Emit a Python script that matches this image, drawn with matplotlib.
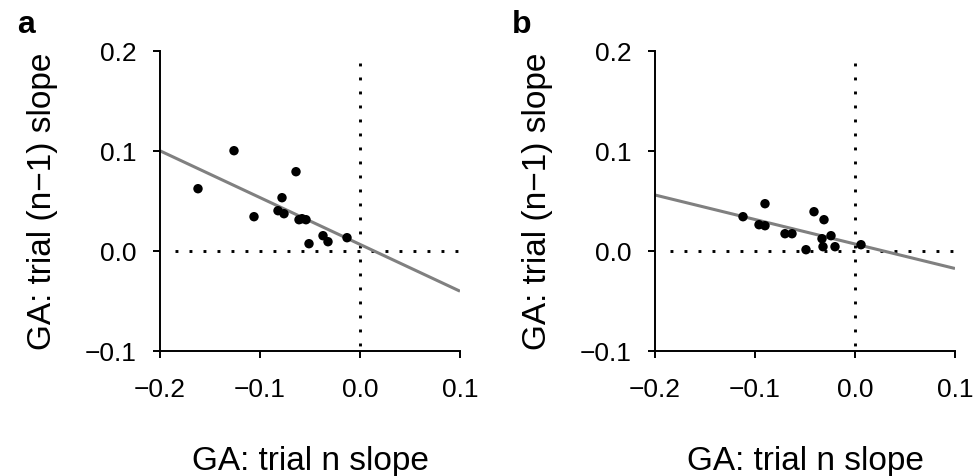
import matplotlib
matplotlib.use("Agg")
import matplotlib.pyplot as plt
import numpy as np

plt.rcParams['font.family'] = ['Liberation Sans', 'DejaVu Sans']

# ---- data ----
panel_labels = ["a", "b"]
xa = [-0.162, -0.126, -0.064, -0.078, -0.106, -0.082, -0.076, -0.061, -0.058,
      -0.054, -0.051, -0.037, -0.032, -0.013]
ya = [0.062, 0.100, 0.079, 0.053, 0.034, 0.040, 0.037, 0.031, 0.032,
      0.031, 0.007, 0.015, 0.009, 0.013]
xb = [-0.112, -0.090, -0.096, -0.090, -0.070, -0.063, -0.049, -0.041, -0.031,
      -0.033, -0.024, -0.032, -0.020, 0.006]
yb = [0.034, 0.047, 0.026, 0.025, 0.017, 0.017, 0.001, 0.039, 0.031,
      0.012, 0.015, 0.004, 0.004, 0.006]
fit_a = (-0.468, 0.0063)   # slope, intercept
fit_b = (-0.245, 0.0067)
xticks = [-0.2, -0.1, 0.0, 0.1]
yticks = [-0.1, 0.0, 0.1, 0.2]
xlabel = "GA: trial n slope"
ylabel = "GA: trial (n\u22121) slope"

W, H = 975, 477
fig = plt.figure(figsize=(W / 100, H / 100), dpi=100)

panels = [(xa, ya, fit_a, 160), (xb, yb, fit_b, 655)]
for i, (xs, ys, fit, left_px) in enumerate(panels):
    ax = fig.add_axes([left_px / W, (H - 351.7) / H, 300 / W, 300 / H])
    ax.set_xlim(xticks[0], xticks[-1])
    ax.set_ylim(yticks[0], yticks[-1])
    # reference dotted lines
    dot = dict(color='black', lw=2.1, linestyle=(0, (1, 3.8)),
               dash_capstyle='butt', zorder=1)
    ax.plot([xticks[0] + 0.015, xticks[-1]], [0, 0], **dot)
    ax.plot([0, 0], [yticks[-1] - 0.012, yticks[0]], **dot)
    # regression line
    lx = np.array([xticks[0], xticks[-1]])
    ax.plot(lx, fit[0] * lx + fit[1], color='#808080', lw=2.2, zorder=2,
            solid_capstyle='butt')
    ax.scatter(xs, ys, s=46, color='black', edgecolors='none', zorder=3)

    for s in ['top', 'right']:
        ax.spines[s].set_visible(False)
    for s in ['left', 'bottom']:
        ax.spines[s].set_linewidth(1.4)
    ax.set_xticks(xticks)
    ax.set_yticks(yticks)
    ax.set_xticklabels([f"{v:.1f}".replace('-', '\u2212') for v in xticks])
    ax.set_yticklabels([f"{v:.1f}".replace('-', '\u2212') for v in yticks])
    ax.tick_params(axis='both', direction='out', length=5, width=1.4,
                   labelsize=19)
    ax.tick_params(axis='y', pad=12)
    ax.tick_params(axis='x', pad=14)
    ax.set_xlabel(xlabel, fontsize=24)
    ax.set_ylabel(ylabel, fontsize=24)
    ax.xaxis.set_label_coords(0.5, -0.315)
    ax.yaxis.set_label_coords(-0.34, 0.5)
    fig.text((left_px - 143) / W, 1 - 33 / H, panel_labels[i], fontsize=23,
             fontweight='bold', ha='left', va='baseline')

fig.savefig("out.png", dpi=100)
